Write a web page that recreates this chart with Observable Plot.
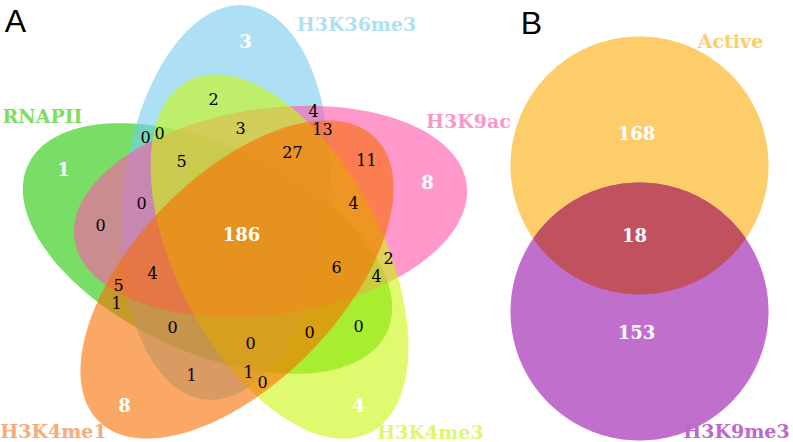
<!DOCTYPE html>
<html><head><meta charset="utf-8">
<script src="https://cdn.jsdelivr.net/npm/d3@7"></script>
<script src="https://cdn.jsdelivr.net/npm/@observablehq/plot@0.6"></script>
<style>html,body{margin:0;padding:0;background:#fff;}</style>
</head><body><div id="chart"></div>
<script>
// ---------- data ----------
const setsA = ["RNAPII", "H3K36me3", "H3K9ac", "H3K4me3", "H3K4me1"];
// region counts: 5 unique regions, the 5-way core, then the other intersections
const uniqueCountsA = [1, 3, 8, 4, 8];
const coreCountA = 186;
const otherCountsA = [2, 4, 3, 13, 0, 0, 27, 11, 5, 0, 0, 4, 5, 1, 4, 6, 2, 4, 0, 0, 0, 0, 1, 1, 0];
const setsB = ["Active", "H3K9me3"];
const regionCountsB = [168, 18, 153];
const panelLabels = ["A", "B"];

// ---------- layout (geometry & styles) ----------
const ellipseLayoutA = [
  {cx: 207, cy: 248, a: 198, b: 103, angle: 25},
  {cx: 225, cy: 202, a: 198, b: 103, angle: 95.8},
  {cx: 270, cy: 211, a: 198, b: 103, angle: -8},
  {cx: 279, cy: 256, a: 198, b: 103, angle: 62.7},
  {cx: 236.5, cy: 279, a: 198, b: 103, angle: -45.8}
];
const fillA = ["#1EC800", "#76CBEE", "#FF55AA", "#CAF70D", "#F86C00"];
const labelColorA = ["#7EDC5E", "#ADDFF5", "#F897CA", "#DDF86E", "#F8AA78"];
const setLabelPosA = [[42, 116], [356, 24], [468, 121], [430, 432], [53, 431]];
const uniquePosA = [[63, 170], [245, 42], [427, 183], [358, 406], [124, 406]];
const corePosA = [241, 235];
const otherPosA = [[213, 99], [313, 111], [240, 128], [322, 129], [145, 137], [159, 133], [292, 152], [366, 160], [181, 161], [141, 203], [100, 225], [152, 273], [118, 285], [116, 303], [353, 203], [336, 267], [388, 258], [376, 276], [172, 327], [250, 343], [309, 332], [358, 326], [191, 375], [248, 372], [262, 382]];

const circleLayoutB = [
  {cx: 639, cy: 165, a: 129, b: 129, angle: 0},
  {cx: 639, cy: 311, a: 129, b: 129, angle: 0}
];
const fillB = ["#FDCD6A", "#C070CC"];
const overlapFillB = "#C05260";
const setLabelPosB = [[730, 41], [736, 431]];
const labelColorB = ["#FCCD6C", "#BE68CC"];
const regionPosB = [[636, 134], [634, 236], [636, 333]];
const panelPos = [[15, 21], [531, 23]];

function ellipsePoints(e, n = 240) {
  const th = e.angle * Math.PI / 180, c = Math.cos(th), s = Math.sin(th);
  return d3.range(n).map(i => {
    const t = 2 * Math.PI * i / n;
    const u = e.a * Math.cos(t), v = e.b * Math.sin(t);
    return {x: e.cx + u * c - v * s, y: e.cy + u * s + v * c};
  });
}
function insideCircle(p, e) {
  return (p.x - e.cx) ** 2 + (p.y - e.cy) ** 2 <= e.a * e.a;
}

const serif = "DejaVu Serif";
const marks = [];

// Panel A ellipses
setsA.forEach((s, i) => {
  marks.push(Plot.line(ellipsePoints(ellipseLayoutA[i]), {
    x: "x", y: "y", curve: "linear-closed", stroke: "none",
    fill: fillA[i], fillOpacity: 0.6
  }));
});
// Panel B circles + lens
const c1 = ellipsePoints(circleLayoutB[0]);
const c2 = ellipsePoints(circleLayoutB[1]);
marks.push(Plot.line(c1, {x: "x", y: "y", curve: "linear-closed", stroke: "none", fill: fillB[0]}));
marks.push(Plot.line(c2, {x: "x", y: "y", curve: "linear-closed", stroke: "none", fill: fillB[1]}));
const lens = c1.filter(p => insideCircle(p, circleLayoutB[1]))
  .concat(c2.filter(p => insideCircle(p, circleLayoutB[0])));
marks.push(Plot.line(lens, {x: "x", y: "y", curve: "linear-closed", stroke: "none", fill: overlapFillB}));

// Panel A set labels
const setLabelDataA = setsA.map((s, i) => ({name: s, x: setLabelPosA[i][0], y: setLabelPosA[i][1], color: labelColorA[i]}));
marks.push(Plot.text(setLabelDataA, {
  x: "x", y: "y", text: "name", fill: d => d.color,
  fontFamily: serif, fontWeight: "bold", fontSize: 19
}));
// Panel A bold white counts
const boldA = uniqueCountsA.map((v, i) => ({v, x: uniquePosA[i][0], y: uniquePosA[i][1]}))
  .concat([{v: coreCountA, x: corePosA[0], y: corePosA[1]}]);
marks.push(Plot.text(boldA, {
  x: "x", y: "y", text: d => String(d.v), fill: "white",
  fontFamily: serif, fontWeight: "bold", fontSize: 18
}));
// Panel A other counts
const otherA = otherCountsA.map((v, i) => ({v, x: otherPosA[i][0], y: otherPosA[i][1]}));
marks.push(Plot.text(otherA, {
  x: "x", y: "y", text: d => String(d.v), fill: "black",
  fontFamily: serif, fontSize: 16
}));
// Panel B labels
const setLabelDataB = setsB.map((s, i) => ({name: s, x: setLabelPosB[i][0], y: setLabelPosB[i][1], color: labelColorB[i]}));
marks.push(Plot.text(setLabelDataB, {
  x: "x", y: "y", text: "name", fill: d => d.color,
  fontFamily: serif, fontWeight: "bold", fontSize: 19
}));
const countsB = regionCountsB.map((v, i) => ({v, x: regionPosB[i][0], y: regionPosB[i][1]}));
marks.push(Plot.text(countsB, {
  x: "x", y: "y", text: d => String(d.v), fill: "white",
  fontFamily: serif, fontWeight: "bold", fontSize: 18
}));
// Panel letters
marks.push(Plot.text(panelLabels.map((p, i) => ({p, x: panelPos[i][0], y: panelPos[i][1]})), {
  x: "x", y: "y", text: "p", fill: "black",
  fontFamily: "Liberation Sans", fontSize: 32
}));

const svg = Plot.plot({
  width: 793, height: 442, margin: 0,
  x: {domain: [0, 793], range: [0, 793], axis: null},
  y: {domain: [0, 442], range: [0, 442], axis: null},
  style: {background: "white"},
  marks
});
document.getElementById("chart").appendChild(svg);
</script>
</body></html>
